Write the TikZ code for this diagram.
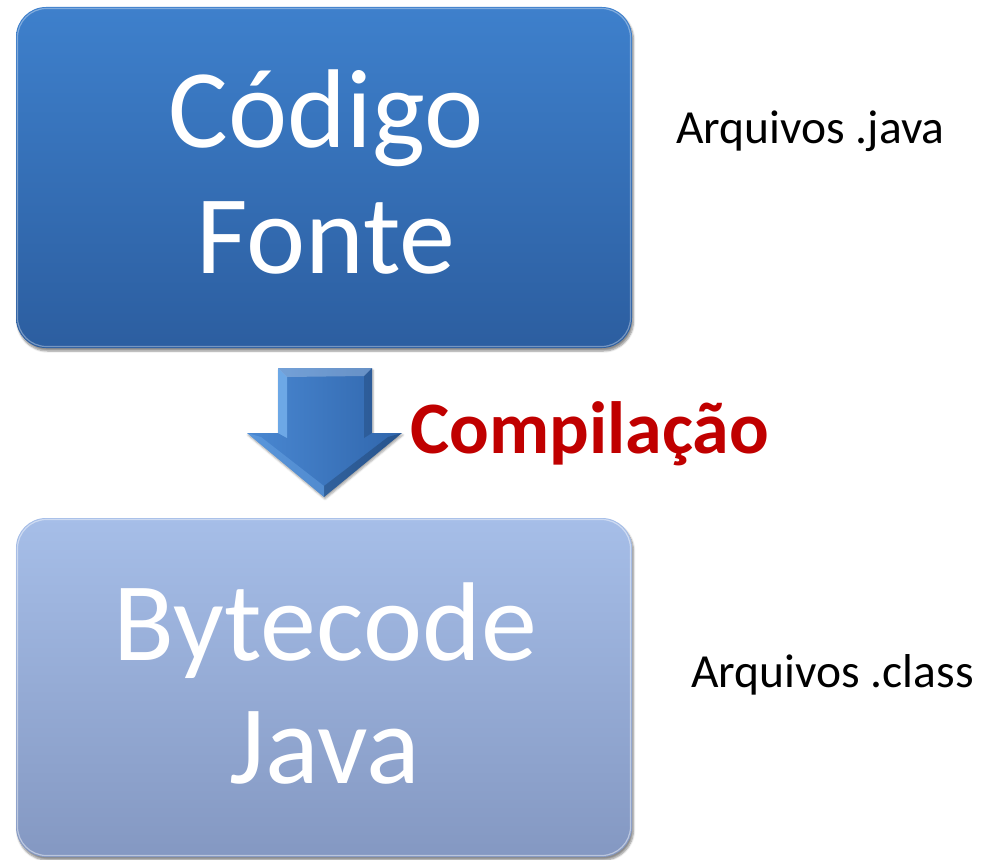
\documentclass[tikz,border=0pt]{standalone}
\usepackage{fontspec}
\setmainfont{Carlito}
\usetikzlibrary{shadows.blur}
\definecolor{topA}{RGB}{62,128,204}
\definecolor{topB}{RGB}{44,94,160}
\definecolor{botA}{RGB}{166,190,232}
\definecolor{botB}{RGB}{132,152,194}
\definecolor{arrA}{RGB}{74,136,210}
\definecolor{arrB}{RGB}{48,102,172}
\definecolor{arrHi}{RGB}{120,178,238}
\definecolor{compred}{RGB}{192,0,0}
\tikzset{
  card/.style={rounded corners=30pt, draw=none,
    blur shadow={shadow blur steps=6, shadow xshift=1.5pt, shadow yshift=-3pt, shadow opacity=45}},
  bigtext/.style={text=white, inner sep=0pt, anchor=base,
    font=\fontsize{112}{126}\selectfont},
  sidelabel/.style={text=black, inner sep=0pt, anchor=base west,
    font=\fontsize{47.5}{54}\selectfont},
}
\begin{document}
\begin{tikzpicture}[x=1pt,y=-1pt]
\useasboundingbox (0,0) rectangle (981,859);
% boxes
\path[card, top color=topA, bottom color=topB] (16,7) rectangle (632,348);
\path[card, top color=botA, bottom color=botB] (16,518) rectangle (632,857);
% bevel highlights
\draw[white, opacity=0.35, line width=1.2pt, rounded corners=29pt] (17.5,8.5) rectangle (630.5,346.5);
\draw[white, opacity=0.45, line width=1.2pt, rounded corners=29pt] (17.5,519.5) rectangle (630.5,855.5);
% block arrow
\path[blur shadow={shadow blur steps=4, shadow xshift=1pt, shadow yshift=-2pt, shadow opacity=35},
      left color=arrA, right color=arrB]
  (278,368) -- (372,368) -- (372,433) -- (402,433) -- (324,497) -- (247,433) -- (278,433) -- cycle;
\fill[arrHi, opacity=0.8] (278,368) -- (287,377) -- (287,438) -- (278,433) -- cycle;
\fill[white, opacity=0.25] (278,368) -- (372,368) -- (364,376) -- (287,377) -- cycle;
\fill[black, opacity=0.15] (372,368) -- (364,376) -- (364,438) -- (372,433) -- cycle;
\fill[black, opacity=0.18] (402,433) -- (324,497) -- (324,486) -- (388,437) -- cycle;
\fill[arrHi, opacity=0.35] (247,433) -- (324,497) -- (324,486) -- (261,437) -- cycle;
% box texts
\node[bigtext] (c1) at (326,147) {Código};
\node[bigtext] (c2) at (326,273) {Fonte};
\node[bigtext] (b1) at (325,660) {Bytecode};
\node[bigtext] (b2) at (325,783) {Java};
% compilacao
\node[text=compred, inner sep=0pt, anchor=base west, font=\fontsize{74}{80}\selectfont\bfseries] (comp) at (410,453) {Compilação};
% side labels
\node[sidelabel] (lab1) at (676,143) {Arquivos .java};
\node[sidelabel] (lab2) at (691,687) {Arquivos .class};
\end{tikzpicture}
\end{document}
